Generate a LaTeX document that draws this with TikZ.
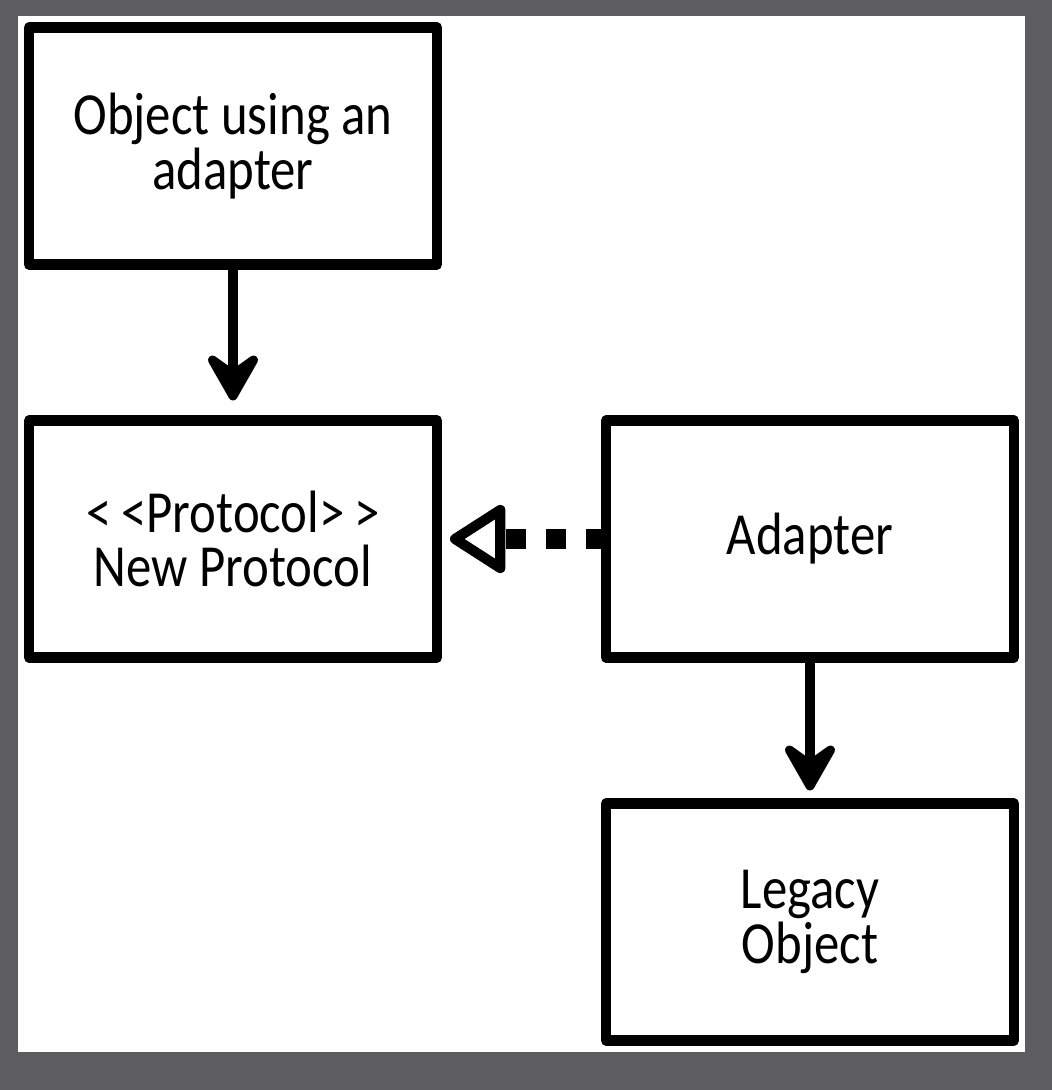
\documentclass[tikz,border=0pt]{standalone}
\usepackage{fontspec}
\setmainfont{Carlito}[FakeStretch=0.85]
\usetikzlibrary{arrows.meta}
\usetikzlibrary{positioning}
\definecolor{frame}{HTML}{5D5D5F}

\begin{document}
\begin{tikzpicture}[
    box/.style={draw, line width=2.9pt, line join=round, fill=white,
        minimum width=4.08cm, minimum height=2.37cm, inner sep=0pt, outer sep=0pt,
        align=center, font=\fontsize{17}{15.5}\selectfont},
    uses/.style={line width=2.7pt, line cap=round,
        -{Stealth[length=6mm, width=6.8mm, inset=2.4mm, round]}},
    impl/.style={line width=5.6pt, dash pattern=on 0.2cm off 0.2cm,
        -{Triangle[open, length=6mm, width=7.4mm, line width=2.9pt, round]}}]

    % frame round the picture
    \fill[frame] (0,0) rectangle (10.52,10.90);
    \fill[white] (0.18,0.38) rectangle (10.25,10.74);

    \node[box] (client) at (2.33,9.44) {Object using an\\adapter};
    \node[box, below=1.56cm of client] (protocol) {{<}\,{<}Protocol{>}\,{>}\\New Protocol};
    \node[box, right=1.69cm of protocol] (adapter) {Adapter};
    \node[box, below=1.46cm of adapter] (legacy) {Legacy\\Object};

    \draw[uses] (client.south) -- ([yshift=2mm]protocol.north);
    \draw[uses] (adapter.south) -- ([yshift=1.3mm]legacy.north);
    \draw[impl] (adapter.west) -- ([xshift=1.3mm]protocol.east);
\end{tikzpicture}
\end{document}
